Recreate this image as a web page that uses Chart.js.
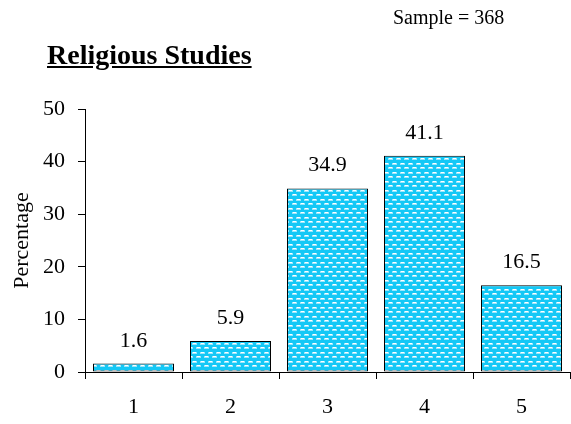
<!DOCTYPE html>
<html>
<head>
<meta charset="utf-8">
<script src="https://cdn.jsdelivr.net/npm/chart.js@4"></script>
<style>
  html,body{margin:0;padding:0;background:#fff;}
  #wrap{position:relative;width:571px;height:424px;}
  #title{position:absolute;left:47px;top:39px;font:bold 28px "Liberation Serif",serif;text-decoration:underline;color:#000;}
  #sample{position:absolute;left:393px;top:6px;font:20px "Liberation Serif",serif;color:#000;}
</style>
</head>
<body>
<div id="wrap">
  <canvas id="c" width="571" height="424"></canvas>
  <div id="title">Religious Studies</div>
  <div id="sample">Sample = 368</div>
</div>
<script>
const categories=['1','2','3','4','5'];
const percentages=[1.6,5.9,34.9,41.1,16.5];
const yTicks=[0,10,20,30,40,50];

const FONT='"Liberation Serif", serif';

// cyan fill with staggered white dashes, like the old office pattern fill
function dashPattern(){
  const p=document.createElement('canvas');p.width=8;p.height=9;
  const g=p.getContext('2d');
  g.fillStyle='#14c8f6';g.fillRect(0,0,8,9);
  g.fillStyle='#9be6fb';
  g.fillRect(0,1,5,2);g.fillRect(4,5,5,2);g.fillRect(0,5,1,2);
  g.fillStyle='#ffffff';
  g.fillRect(1,1,3,1);g.fillRect(5,5,3,1);
  return g.createPattern(p,'repeat');
}

const valueLabels={id:'valueLabels',afterDatasetsDraw(chart){
  const ctx=chart.ctx,meta=chart.getDatasetMeta(0);
  ctx.save();ctx.fillStyle='#000';ctx.font='22px '+FONT;
  ctx.textAlign='center';ctx.textBaseline='alphabetic';
  meta.data.forEach((bar,i)=>{ctx.fillText(String(percentages[i]),bar.x,bar.y-17);});
  ctx.restore();
}};

new Chart(document.getElementById('c'),{type:'bar',
  data:{labels:categories,datasets:[{data:percentages,backgroundColor:dashPattern(),
    borderColor:'#000',borderWidth:1,borderSkipped:false,barPercentage:0.835,categoryPercentage:1}]},
  options:{responsive:false,animation:false,events:[],
    layout:{padding:{top:109,right:1,left:0,bottom:0}},
    plugins:{legend:{display:false},tooltip:{enabled:false}},
    scales:{
      x:{grid:{display:true,drawOnChartArea:false,offset:true,color:'#000',tickLength:7,
          tickColor:c=>c.index===categories.length?'rgba(0,0,0,0)':'#000'},
        border:{display:true,color:'#000',width:1},
        ticks:{color:'#000',font:{family:FONT,size:22},padding:15},
        afterFit:s=>{s.height=52;}},
      y:{min:0,max:50,afterBuildTicks:s=>{s.ticks=yTicks.map(v=>({value:v}));},
        grid:{display:true,drawOnChartArea:false,color:'#000',tickLength:7,tickColor:'#000'},
        border:{display:true,color:'#000',width:1},
        ticks:{color:'#000',font:{family:FONT,size:22},padding:13},
        title:{display:true,text:'Percentage',color:'#000',font:{family:FONT,size:22},padding:{top:9,bottom:0}},
        afterFit:s=>{s.width=85;}}
    }},
  plugins:[valueLabels]
});
</script>
</body>
</html>
